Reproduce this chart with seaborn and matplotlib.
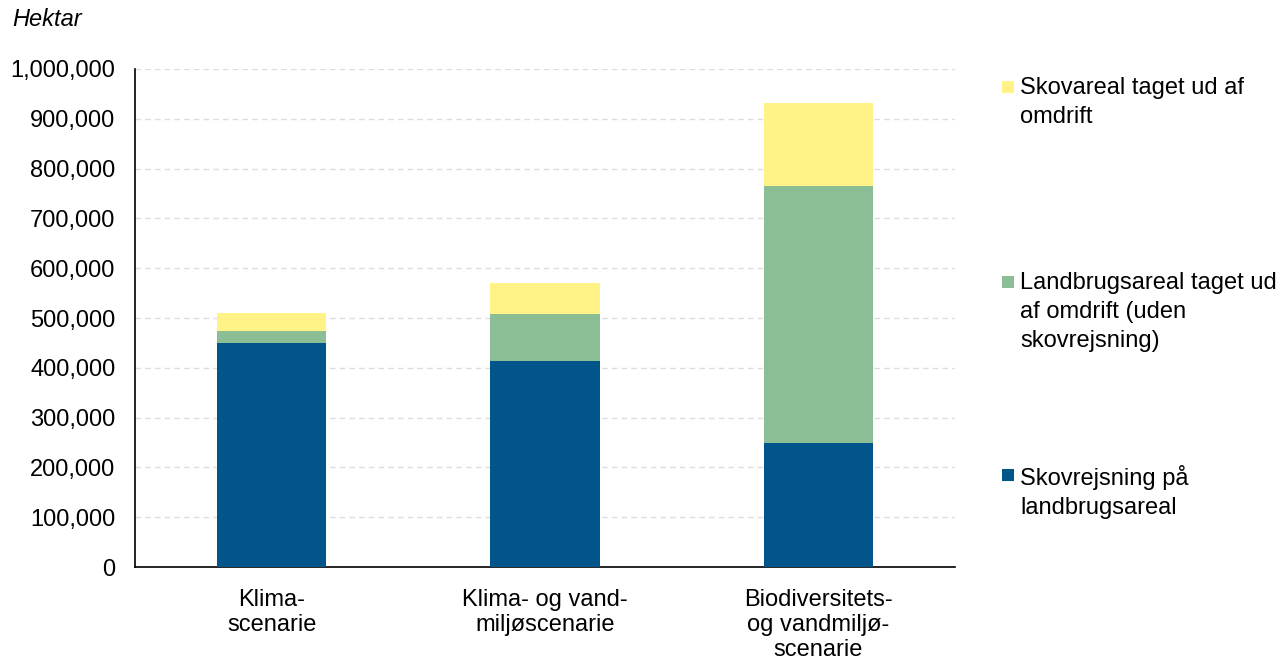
import numpy as np
import pandas as pd
import matplotlib
matplotlib.use("Agg")
import matplotlib.pyplot as plt
import seaborn as sns
from matplotlib.patches import Rectangle
from matplotlib.ticker import FuncFormatter

# data (hektar)
scenarios = ["Klima-\nscenarie", "Klima- og vand-\nmiljøscenarie", "Biodiversitets-\nog vandmiljø-\nscenarie"]
skovrejsning = [449000, 414000, 249000]
landbrug_ud = [25000, 95000, 516000]
skovareal_ud = [37000, 62000, 167000]

series_names = ["Skovrejsning på\nlandbrugsareal",
                "Landbrugsareal taget ud\naf omdrift (uden\nskovrejsning)",
                "Skovareal taget ud af\nomdrift"]
colors = ["#02558B", "#8CBE96", "#FFF287"]

sns.set_theme(style="white")
plt.rcParams['font.family'] = ['Liberation Sans', 'DejaVu Sans']
fs = 17

df = pd.DataFrame({"scenarie": scenarios, "s1": skovrejsning, "s2": landbrug_ud, "s3": skovareal_ud})

fig = plt.figure(figsize=(12.82, 6.61), dpi=100)
ax = fig.add_axes([135 / 1282, 1 - 567 / 661, 820 / 1282, 498 / 661])

# stacked bars, one seaborn call per series
bottom = np.zeros(len(df))
for col, c in zip(["s1", "s2", "s3"], colors):
    sns.barplot(x=df["scenarie"], y=df[col], bottom=bottom, color=c, width=0.4,
                order=scenarios, ax=ax, saturation=1, zorder=3, linewidth=0)
    bottom = bottom + df[col].values

ax.set_ylim(0, 1000000)
ax.set_xlim(-0.5, 2.5)
ax.set_yticks(np.arange(0, 1000001, 100000))
ax.yaxis.set_major_formatter(FuncFormatter(lambda v, p: f"{int(v):,}"))
ax.grid(axis="y", color="#DDDDDD", linestyle=(0, (4, 3)), linewidth=1, zorder=0)
ax.set_axisbelow(True)
ax.set_xlabel("")
ax.set_ylabel("")
for s in ["top", "right"]:
    ax.spines[s].set_visible(False)
for s in ["left", "bottom"]:
    ax.spines[s].set_color("black")
    ax.spines[s].set_linewidth(1.2)
ax.tick_params(axis="both", length=0, labelsize=fs, colors="black")
ax.tick_params(axis="y", pad=14)
ax.tick_params(axis="x", pad=16)
for lbl in ax.get_xticklabels():
    lbl.set_linespacing(1.18)

fig.text(12 / 1282, 1 - 20 / 661, "Hektar", fontsize=fs, style="italic", va="center", ha="left",
         color="black")

# legend drawn by hand on the right, top to bottom reversed
leg_y = [87, 282, 475]
for name, c, y in zip(series_names[::-1], colors[::-1], leg_y):
    fig.patches.append(Rectangle(((1002) / 1282, 1 - (y + 6) / 661), 12 / 1282, 12 / 661,
                                 transform=fig.transFigure, facecolor=c, edgecolor="none"))
    fig.text(1020 / 1282, 1 - (y - 10) / 661, name, fontsize=fs, va="top", ha="left",
             linespacing=1.42, color="black")

fig.savefig("out.png", dpi=100)
